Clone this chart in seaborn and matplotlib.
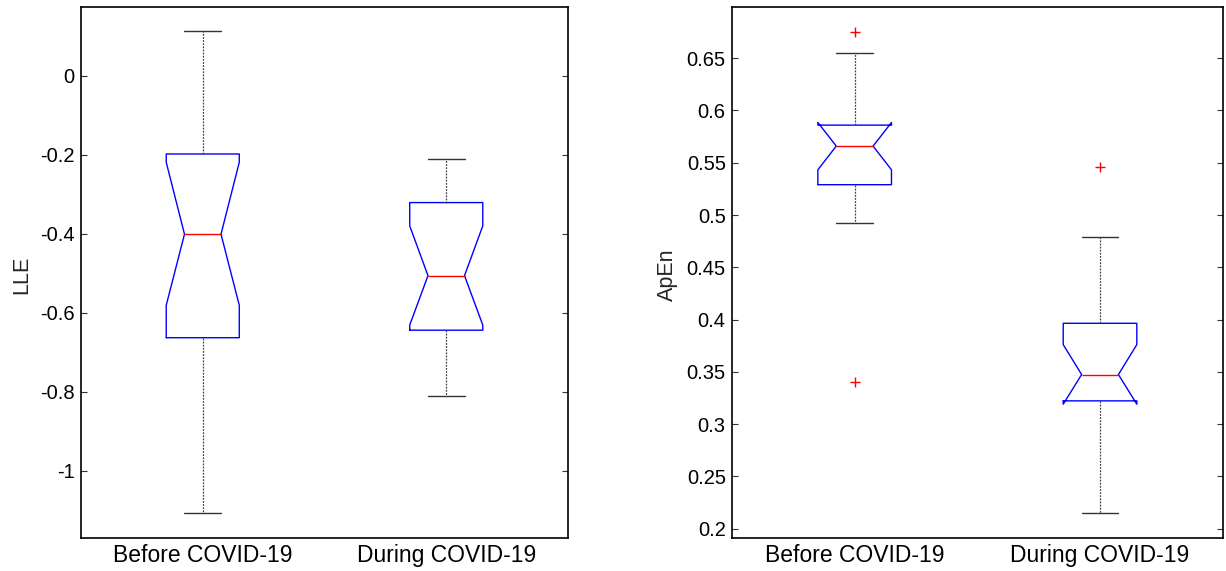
import matplotlib
matplotlib.use("Agg")
import matplotlib.pyplot as plt
import pandas as pd
import seaborn as sns

# ---------------- data ----------------
groups = ["Before COVID-19", "During COVID-19"]

lle_whislo = [-1.107, -0.810]
lle_q1 = [-0.663, -0.644]
lle_med = [-0.401, -0.506]
lle_q3 = [-0.198, -0.321]
lle_whishi = [0.114, -0.211]
lle_cilo = [-0.581, -0.631]
lle_cihi = [-0.219, -0.380]
lle_fliers = [[], []]

apen_whislo = [0.4926, 0.2145]
apen_q1 = [0.529, 0.3222]
apen_med = [0.5659, 0.3474]
apen_q3 = [0.586, 0.3964]
apen_whishi = [0.6554, 0.4786]
apen_cilo = [0.5433, 0.3190]
apen_cihi = [0.5885, 0.3760]
apen_fliers = [[0.6754, 0.340], [0.5459]]

lle_ticks = [-1.0, -0.8, -0.6, -0.4, -0.2, 0.0]
lle_ticklabels = ["-1", "-0.8", "-0.6", "-0.4", "-0.2", "0"]
apen_ticks = [0.2, 0.25, 0.3, 0.35, 0.4, 0.45, 0.5, 0.55, 0.6, 0.65]
apen_ticklabels = ["0.2", "0.25", "0.3", "0.35", "0.4", "0.45", "0.5", "0.55", "0.6", "0.65"]

# ---------------- style ----------------
sns.set_style("white")
plt.rcParams["font.family"] = ["Liberation Sans", "DejaVu Sans"]
plt.rcParams["axes.unicode_minus"] = False


def make_stats(whislo, q1, med, q3, whishi, cilo, cihi, fliers):
    out = []
    for i in range(len(med)):
        out.append(dict(whislo=whislo[i], q1=q1[i], med=med[i], q3=q3[i],
                        whishi=whishi[i], cilo=cilo[i], cihi=cihi[i],
                        mean=med[i], iqr=q3[i] - q1[i], fliers=list(fliers[i])))
    return out


fig = plt.figure(figsize=(12.26, 5.71), dpi=100)
ax1 = fig.add_axes([81 / 1226, 33 / 571, 487 / 1226, 531 / 571])
ax2 = fig.add_axes([732 / 1226, 33 / 571, 490.7 / 1226, 531 / 571])

box_kw = dict(
    width=0.3, fill=False, shownotches=True,
    boxprops=dict(color="#0000ff", linewidth=1.0),
    medianprops=dict(color="#ff0000", linewidth=1.0),
    whiskerprops=dict(color="#444444", linewidth=0.9, linestyle=(0, (1.5, 1.0))),
    capprops=dict(color="#333333", linewidth=1.0),
    flierprops=dict(marker="+", markeredgecolor="#ff0000", markersize=7,
                    markeredgewidth=1.0, linestyle="none"),
)

panels = [
    (ax1, make_stats(lle_whislo, lle_q1, lle_med, lle_q3, lle_whishi, lle_cilo, lle_cihi, lle_fliers),
     lle_med, "LLE", (-1.170, 0.174), lle_ticks, lle_ticklabels, -0.1005),
    (ax2, make_stats(apen_whislo, apen_q1, apen_med, apen_q3, apen_whishi, apen_cilo, apen_cihi, apen_fliers),
     apen_med, "ApEn", (0.191, 0.699), apen_ticks, apen_ticklabels, -0.110),
]

for ax, stats, meds, ylab, ylim, ticks, ticklabels, labx in panels:
    df = pd.DataFrame({"group": groups, "value": meds})
    sns.boxplot(data=df, x="group", y="value", ax=ax, bxpstats=stats, **box_kw)
    ax.set_xlim(-0.5, 1.5)
    ax.set_ylim(*ylim)
    ax.set_yticks(ticks)
    ax.set_yticklabels(ticklabels)
    ax.set_xlabel("")
    ax.set_ylabel(ylab, fontsize=15.5)
    ax.yaxis.set_label_coords(labx, 0.495)
    for s in ax.spines.values():
        s.set_visible(True)
        s.set_color("black")
        s.set_linewidth(1.2)
    ax.tick_params(axis="y", which="both", direction="in", left=True, right=True,
                   length=4.5, width=0.8, color="#333333", labelsize=14.5, pad=4.5,
                   labelcolor="black")
    ax.tick_params(axis="x", length=0, labelsize=16.5, pad=4, labelcolor="black")
    ax.grid(False)

fig.savefig("out.png", dpi=100, facecolor="white")
